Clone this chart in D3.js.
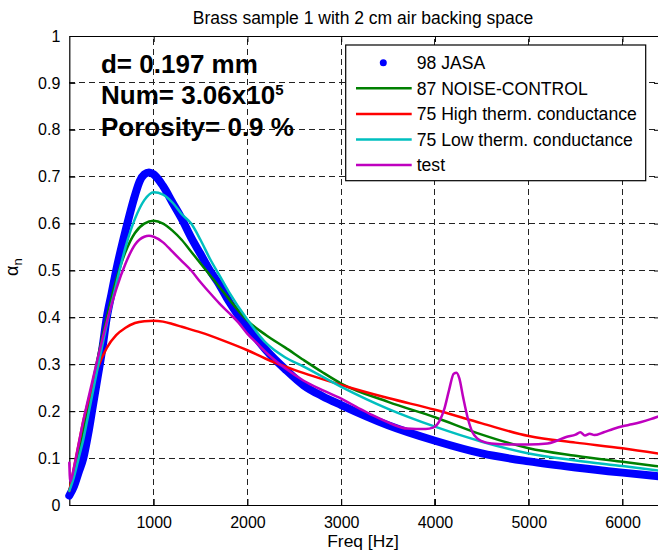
<!DOCTYPE html>
<html lang="en">
  <meta charset="UTF-8" />
  <title>Brass sample 1</title>
  <style>
    body { margin: 0; background: #fff; }
    text { font-family: "Liberation Sans", Arial, sans-serif; fill: #000; }
  </style>
  <script src="https://d3js.org/d3.v7.min.js"></script>
  <body>
    <div id="chart"></div>
    <script>
      // values: frequency [Hz] and absorption coefficient
      let jasaFreq = [100, 150, 200, 250, 300, 350, 400, 450, 500, 550, 600, 700, 800, 850, 900, 950, 1000, 1100, 1200, 1300, 1400, 1500, 1600, 1700, 1800, 1900, 2000, 2200, 2400, 2600, 2800, 3000, 3500, 4000, 4500, 5000, 5500, 6000, 6400];
      let jasaAlpha = [0.02, 0.04, 0.07, 0.10, 0.15, 0.21, 0.27, 0.33, 0.40, 0.45, 0.50, 0.585, 0.66, 0.69, 0.705, 0.709, 0.705, 0.68, 0.645, 0.61, 0.57, 0.535, 0.50, 0.47, 0.435, 0.405, 0.38, 0.33, 0.29, 0.255, 0.232, 0.213, 0.17, 0.137, 0.11, 0.093, 0.08, 0.069, 0.061];

      let noiseFreq = [100, 150, 200, 250, 300, 400, 500, 600, 700, 800, 900, 1000, 1100, 1200, 1300, 1400, 1500, 1600, 1700, 1800, 1900, 2000, 2200, 2400, 2600, 2800, 3000, 3500, 4000, 4500, 5000, 5500, 6000, 6400];
      let noiseAlpha = [0.03, 0.07, 0.11, 0.16, 0.21, 0.31, 0.40, 0.48, 0.54, 0.58, 0.60, 0.606, 0.60, 0.585, 0.565, 0.54, 0.515, 0.49, 0.465, 0.44, 0.415, 0.393, 0.362, 0.336, 0.309, 0.283, 0.259, 0.22, 0.187, 0.15, 0.121, 0.105, 0.092, 0.082];

      let highFreq = [100, 150, 200, 250, 300, 400, 500, 600, 700, 800, 900, 1000, 1100, 1200, 1300, 1500, 1750, 2000, 2250, 2500, 3000, 3500, 4000, 4500, 5000, 5500, 6000, 6400];
      let highAlpha = [0.03, 0.08, 0.13, 0.18, 0.22, 0.29, 0.335, 0.362, 0.378, 0.388, 0.392, 0.393, 0.391, 0.386, 0.38, 0.368, 0.35, 0.33, 0.307, 0.288, 0.256, 0.228, 0.203, 0.174, 0.147, 0.133, 0.121, 0.109];

      let lowFreq = [100, 150, 200, 250, 300, 400, 500, 600, 700, 800, 900, 1000, 1100, 1200, 1300, 1400, 1500, 1600, 1700, 1800, 2000, 2200, 2400, 2600, 3000, 3500, 4000, 4500, 5000, 5500, 6000, 6400];
      let lowAlpha = [0.03, 0.06, 0.10, 0.14, 0.19, 0.29, 0.385, 0.47, 0.55, 0.61, 0.65, 0.667, 0.662, 0.645, 0.62, 0.60, 0.565, 0.525, 0.49, 0.455, 0.395, 0.345, 0.315, 0.295, 0.252, 0.205, 0.167, 0.135, 0.11, 0.095, 0.083, 0.073];

      let testFreq = [100, 110, 150, 200, 250, 300, 400, 500, 600, 700, 800, 900, 950, 1000, 1100, 1200, 1300, 1400, 1500, 1600, 1700, 1800, 1900, 2000, 2100, 2200, 2400, 2600, 2800, 3000, 3200, 3300, 3400, 3500, 3600, 3700, 3800, 3900, 3980, 4050, 4100, 4150, 4200, 4230, 4260, 4300, 4350, 4400, 4450, 4500, 4600, 4800, 5000, 5200, 5300, 5400, 5500, 5550, 5600, 5650, 5700, 5800, 5900, 6000, 6100, 6200, 6300, 6400];
      let testAlpha = [0.09, 0.05, 0.08, 0.13, 0.18, 0.225, 0.31, 0.39, 0.46, 0.515, 0.555, 0.572, 0.574, 0.572, 0.56, 0.54, 0.52, 0.50, 0.475, 0.452, 0.43, 0.41, 0.39, 0.365, 0.345, 0.325, 0.292, 0.265, 0.245, 0.227, 0.205, 0.195, 0.185, 0.176, 0.168, 0.163, 0.162, 0.162, 0.165, 0.18, 0.205, 0.245, 0.28, 0.282, 0.27, 0.23, 0.185, 0.155, 0.142, 0.136, 0.131, 0.129, 0.129, 0.131, 0.137, 0.145, 0.15, 0.155, 0.148, 0.152, 0.149, 0.155, 0.162, 0.168, 0.172, 0.177, 0.183, 0.19];

      let seriesNames = ["98 JASA", "87 NOISE-CONTROL", "75 High therm. conductance", "75 Low therm. conductance", "test"];
      let xTicks = [1000, 2000, 3000, 4000, 5000, 6000];
      let yTicks = [0, 0.1, 0.2, 0.3, 0.4, 0.5, 0.6, 0.7, 0.8, 0.9, 1];

      function drawChart() {
        var margin = { top: 36, right: -2, bottom: 49, left: 69.3 },
          W = 658, H = 554,
          width = W - margin.left - margin.right,
          height = H - margin.top - margin.bottom;

        var svg = d3.select("#chart").append("svg")
          .attr("width", W).attr("height", H)
          .style("overflow", "hidden");

        var g = svg.append("g")
          .attr("transform", "translate(" + margin.left + "," + margin.top + ")");

        var x = d3.scaleLinear().domain([100, 6400]).range([0, width]);
        var y = d3.scaleLinear().domain([0, 1]).range([height, 0]);

        // dashed grid
        var grid = g.append("g").attr("stroke", "#222").attr("stroke-width", 1)
          .attr("stroke-dasharray", "6,4").attr("shape-rendering", "crispEdges");
        grid.selectAll(".gx").data(xTicks).enter().append("line")
          .attr("x1", d => x(d)).attr("x2", d => x(d)).attr("y1", height).attr("y2", 0);
        grid.selectAll(".gy").data(yTicks.slice(1, -1)).enter().append("line")
          .attr("x1", 0).attr("x2", width).attr("y1", d => y(d)).attr("y2", d => y(d));

        // axes (ticks inside the box like matlab)
        var xAxis = g.append("g").attr("transform", "translate(0," + height + ")")
          .call(d3.axisBottom(x).tickValues(xTicks).tickSizeInner(-6).tickSizeOuter(0).tickPadding(12).tickFormat(d3.format("d")));
        var xTop = g.append("g")
          .call(d3.axisTop(x).tickValues(xTicks).tickSizeInner(-6).tickSizeOuter(0).tickFormat(""));
        var yAxis = g.append("g")
          .call(d3.axisLeft(y).tickValues(yTicks).tickSizeInner(-6).tickSizeOuter(0).tickPadding(9).tickFormat(d => d === 0 || d === 1 ? d : d3.format(".1f")(d)));
        var yRight = g.append("g").attr("transform", "translate(" + width + ",0)")
          .call(d3.axisRight(y).tickValues(yTicks).tickSizeInner(-6).tickSizeOuter(0).tickFormat(""));
        [xAxis, xTop, yAxis, yRight].forEach(a => {
          a.select(".domain").attr("stroke", "#000").attr("stroke-width", 1.2);
          a.selectAll(".tick line").attr("stroke", "#000");
          a.selectAll("text").style("font-size", "16px").attr("fill", "#000").style("font-family", "'Liberation Sans', Arial, sans-serif");
        });

        // curves
        g.append("clipPath").attr("id", "clip").append("rect")
          .attr("x", -6).attr("y", 0).attr("width", width + 6).attr("height", height + 2);
        var line = d3.line().x(d => x(d[0])).y(d => y(d[1])).curve(d3.curveMonotoneX);
        var zip = (a, b) => a.map((v, i) => [v, b[i]]);
        var curves = g.append("g").attr("clip-path", "url(#clip)").attr("fill", "none")
          .attr("stroke-linejoin", "round").attr("stroke-linecap", "round");

        curves.append("path").attr("d", line(zip(jasaFreq, jasaAlpha)))
          .attr("stroke", "#0000ff").attr("stroke-width", 8);
        curves.append("path").attr("d", line(zip(noiseFreq, noiseAlpha)))
          .attr("stroke", "#008000").attr("stroke-width", 2.5);
        curves.append("path").attr("d", line(zip(highFreq, highAlpha)))
          .attr("stroke", "#ff0000").attr("stroke-width", 2.5);
        curves.append("path").attr("d", line(zip(lowFreq, lowAlpha)))
          .attr("stroke", "#00bfbf").attr("stroke-width", 2.5);
        curves.append("path").attr("d", line(zip(testFreq, testAlpha)))
          .attr("stroke", "#bf00bf").attr("stroke-width", 2.5);

        // annotation
        var nx = 101 - margin.left;
        g.append("text").attr("x", nx).attr("y", 73 - margin.top)
          .style("font-size", "26px").style("font-weight", "bold").text("d= 0.197 mm");
        var note2 = g.append("text").attr("x", nx).attr("y", 104 - margin.top)
          .style("font-size", "26px").style("font-weight", "bold");
        note2.append("tspan").text("Num= 3.06x10");
        note2.append("tspan").text("5").style("font-size", "15px").attr("dy", -9);
        g.append("text").attr("x", nx).attr("y", 136 - margin.top)
          .style("font-size", "26px").style("font-weight", "bold").text("Porosity= 0.9 %");

        // legend
        var colors = ["#0000ff", "#008000", "#ff0000", "#00bfbf", "#bf00bf"];
        var lg = svg.append("g").attr("transform", "translate(345.7,45)");
        lg.append("rect").attr("width", 300).attr("height", 135.7)
          .attr("fill", "#fff").attr("stroke", "#000").attr("stroke-width", 1.2);
        seriesNames.forEach((name, i) => {
          var cy = 17.7 + i * 25.6;
          if (i === 0) {
            lg.append("circle").attr("cx", 37.6).attr("cy", cy).attr("r", 3.5).attr("fill", colors[i]);
          } else {
            lg.append("line").attr("x1", 10.3).attr("x2", 66).attr("y1", cy).attr("y2", cy)
              .attr("stroke", colors[i]).attr("stroke-width", 2.5);
          }
          lg.append("text").attr("x", 71).attr("y", cy + 6.2).style("font-size", "17.6px").text(name);
        });

        // titles
        svg.append("text").attr("x", 363).attr("y", 24).attr("text-anchor", "middle")
          .style("font-size", "17.5px").text("Brass sample 1 with 2 cm air backing space");
        svg.append("text").attr("x", 363).attr("y", 547).attr("text-anchor", "middle")
          .style("font-size", "17.4px").text("Freq [Hz]");
        var yl = svg.append("text").attr("transform", "translate(18,276) rotate(-90)")
          .style("font-size", "18px");
        yl.append("tspan").text("α");
        yl.append("tspan").text("n").style("font-size", "13px").attr("dy", 4);
      }
      drawChart();
    </script>
  </body>
</html>
